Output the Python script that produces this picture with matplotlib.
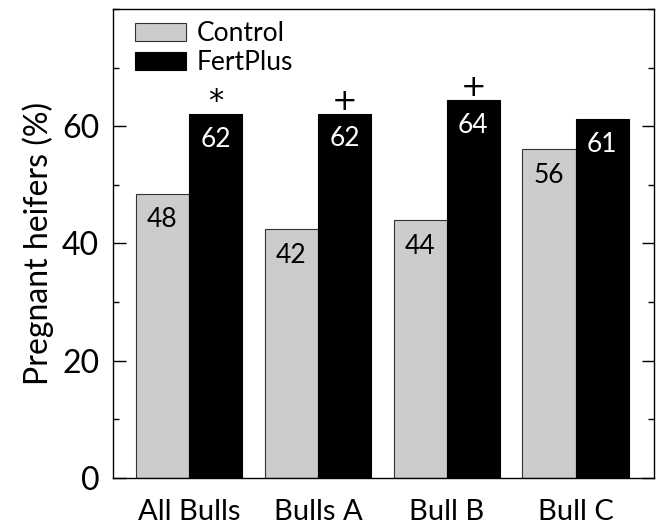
import numpy as np
import matplotlib.pyplot as plt
from matplotlib.ticker import MultipleLocator

groups = ['All Bulls', 'Bulls A', 'Bull B', 'Bull C']
control = [48.5, 42.4, 44.0, 56.1]
fertplus = [62.0, 62.1, 64.4, 61.2]
control_lbl = ['48', '42', '44', '56']
fertplus_lbl = ['62', '62', '64', '61']
signif = ['*', '+', '+', '']

plt.rcParams['font.family'] = ['Lato', 'DejaVu Sans']

fig = plt.figure(figsize=(6.56, 5.25), dpi=100)
ax = fig.add_axes([0.1723, 0.0901, 0.8251, 0.8928])

x = np.arange(len(groups))
w = 0.413
ax.bar(x - w/2, control, w, color='#cccccc', edgecolor='#333333', linewidth=0.8, label='Control')
ax.bar(x + w/2, fertplus, w, color='black', edgecolor='black', linewidth=0.8, label='FertPlus')

for i in range(len(groups)):
    ax.annotate(control_lbl[i], (x[i] - w/2, control[i]), xytext=(0, -19), textcoords='offset points',
                ha='center', va='center', fontsize=19, color='black')
    ax.annotate(fertplus_lbl[i], (x[i] + w/2, fertplus[i]), xytext=(0, -18), textcoords='offset points',
                ha='center', va='center', fontsize=19, color='white')
    if signif[i]:
        ax.annotate(signif[i], (x[i] + w/2, fertplus[i]), xytext=(0, 9), textcoords='offset points',
                    ha='center', va='center', fontsize=22, color='black', family='DejaVu Sans')

ax.set_xlim(-0.59, 3.61)
ax.set_ylim(0, 80)
ax.set_xticks(x)
ax.set_xticklabels(groups, fontsize=21)
ax.yaxis.set_minor_locator(MultipleLocator(10))
ax.set_yticks([0, 20, 40, 60])
ax.tick_params(axis='x', length=0, pad=15)
ax.tick_params(axis='y', which='major', direction='in', length=9, width=1, labelsize=23, pad=10,
               left=True, right=True)
ax.tick_params(axis='y', which='minor', direction='in', length=4, width=1, left=True, right=True)
ax.set_ylabel('Pregnant heifers (%)', fontsize=23, labelpad=6)
for s in ax.spines.values():
    s.set_linewidth(1.0)

ax.legend(loc='upper left', frameon=False, fontsize=19, handlelength=1.95, handleheight=0.7,
          handletextpad=0.4, labelspacing=0.15, borderpad=0, borderaxespad=0,
          bbox_to_anchor=(0.04, 0.974))

fig.savefig('out.png', dpi=100)
